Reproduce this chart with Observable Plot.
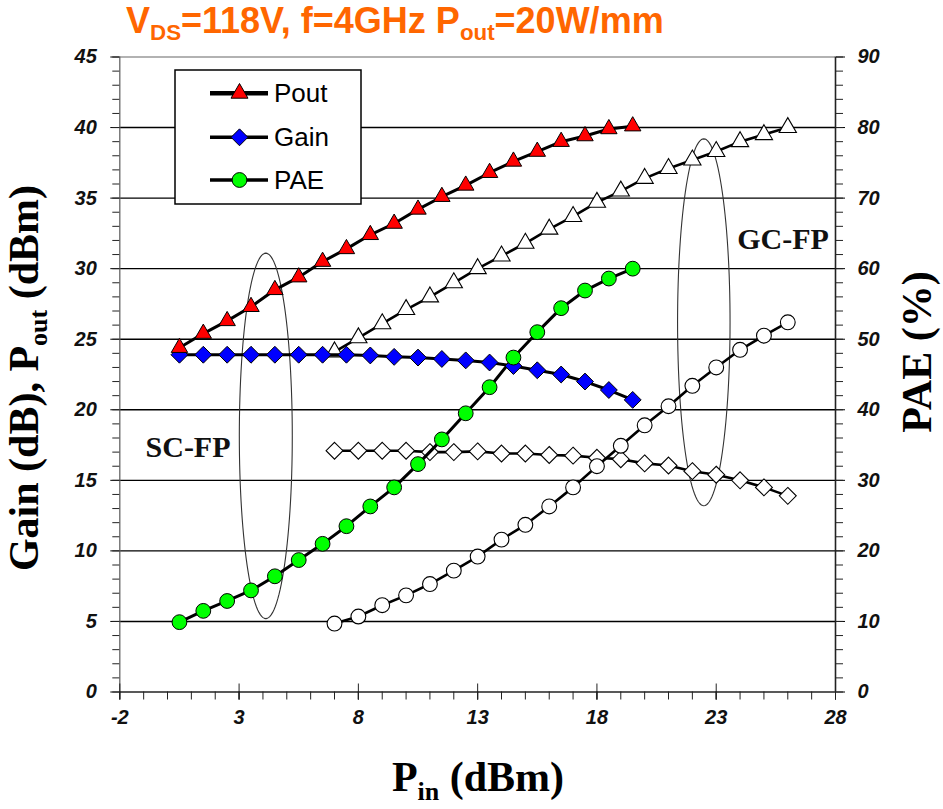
<!DOCTYPE html>
<html><head><meta charset="utf-8">
<script src="https://cdn.jsdelivr.net/npm/d3@7"></script>
<script src="https://cdn.jsdelivr.net/npm/@observablehq/plot@0.6"></script>
<style>
body{margin:0;background:#fff;}
#wrap{position:relative;width:943px;height:809px;overflow:hidden;background:#fff;}
#wrap svg.plot{position:absolute;left:0;top:0;}
.title{position:absolute;left:126px;top:3px;line-height:36px;color:#FF6600;font-weight:bold;font-size:36px;font-family:"Liberation Sans",Arial,sans-serif;white-space:nowrap;}
.title sub{font-size:0.62em;line-height:0;vertical-align:-0.3em;}
.ser{position:absolute;font-family:"Liberation Serif","Times New Roman",serif;font-weight:bold;font-size:42px;line-height:42px;white-space:nowrap;color:#000;}
.ser sub{font-size:0.62em;line-height:0;vertical-align:-0.35em;}
.rot{transform:translate(-50%,-50%) rotate(-90deg);}
.hor{transform:translate(-50%,0);}
#legend{position:absolute;left:0;top:0;}
</style>
</head><body>
<div id="wrap">
  <div class="title">V<sub>DS</sub>=118V, f=4GHz P<sub>out</sub>=20W/mm</div>
</div>
<script>
// ---- Data ----
const pinSC  = [0.5,1.5,2.5,3.5,4.5,5.5,6.5,7.5,8.5,9.5,10.5,11.5,12.5,13.5,14.5,15.5,16.5,17.5,18.5,19.5];
const poutSC = [24.4,25.4,26.3,27.3,28.5,29.4,30.5,31.4,32.4,33.2,34.2,35.1,35.9,36.8,37.6,38.3,39.0,39.4,39.9,40.1];
const gainSC = [23.9,23.9,23.9,23.9,23.9,23.9,23.9,23.9,23.85,23.75,23.7,23.6,23.5,23.35,23.1,22.8,22.5,22.0,21.4,20.7];
const paeSC  = [9.9,11.5,12.9,14.4,16.4,18.7,21.0,23.5,26.3,29.0,32.3,35.8,39.5,43.2,47.4,51.0,54.4,56.9,58.6,60.0];

const pinGC  = [7,8,9,10,11,12,13,14,15,16,17,18,19,20,21,22,23,24,25,26];
const poutGC = [24.1,25.1,26.1,27.1,28.0,29.0,30.0,30.9,31.8,32.8,33.7,34.7,35.5,36.4,37.1,37.7,38.3,39.0,39.5,40.0];
const gainGC = [17.1,17.1,17.1,17.1,17.0,17.0,17.05,16.9,16.9,16.8,16.75,16.6,16.5,16.2,16.05,15.65,15.4,15.0,14.5,13.9];
const paeGC  = [9.7,10.7,12.3,13.7,15.3,17.2,19.2,21.6,23.7,26.3,29.0,32.0,34.9,37.8,40.5,43.4,46.0,48.5,50.5,52.4];

const xMajorTicks = [-2,3,8,13,18,23,28];
const yMajorTicks = [0,5,10,15,20,25,30,35,40,45];
const legendLabels = ["Pout","Gain","PAE"];
const annotText = ["SC-FP","GC-FP"];
const annotX = [0.86, 25.8];
const annotY = [17.3, 32.07];
const ellCx = [4.12, 22.48];
const ellCy = [18.15, 26.2];
const ellRx = [1.11, 1.1];
const ellRy = [12.95, 13.0];

// ---- Derived tables ----
const sc = pinSC.map((p,i)=>({pin:p, pout:poutSC[i], gain:gainSC[i], pae:paeSC[i]/2}));
const gc = pinGC.map((p,i)=>({pin:p, pout:poutGC[i], gain:gainGC[i], pae:paeGC[i]/2}));
const xMinor = d3.range(-2, 28.001, 1);
const yMinor = d3.range(0, 45.001, 1);
const gridY = yMajorTicks.filter(v=>v>0 && v<45);
const annots = annotText.map((t,i)=>({t, x:annotX[i], y:annotY[i]}));
const ellPts = [];
ellCx.forEach((cx,k)=>{
  d3.range(0, 361, 3).forEach(a=>{
    const r = a*Math.PI/180;
    ellPts.push({id:k, x: cx + ellRx[k]*Math.cos(r), y: ellCy[k] + ellRy[k]*Math.sin(r)});
  });
});

const tickFont = {fontSize:20, fontWeight:"bold", fontStyle:"italic", fontFamily:"Liberation Sans, Arial, sans-serif", fill:"#111"};
const fmt = d => String(d);

const chart = Plot.plot({
  width: 943, height: 809,
  marginLeft: 119.3, marginRight: 108, marginTop: 56.5, marginBottom: 117.5,
  x: {domain: [-2, 28]},
  y: {domain: [0, 45]},
  style: {background: "#fff", overflow: "visible"},
  marks: [
    Plot.ruleY(gridY, {stroke: "#000", strokeWidth: 1.4}),
    Plot.ruleY([45], {stroke: "#999", strokeWidth: 1.3}),
    Plot.ruleX([-2], {stroke: "#666", strokeWidth: 1.3}),
    Plot.ruleX([28], {stroke: "#222", strokeWidth: 1.6}),
    Plot.ruleY([0], {stroke: "#222", strokeWidth: 1.6}),
    // axes
    Plot.axisY({anchor: "left", ticks: yMajorTicks, tickSize: 9, tickPadding: 14, tickFormat: fmt, label: null, ...tickFont}),
    Plot.axisY({anchor: "left", ticks: yMinor, tickSize: 7, tickFormat: () => "", label: null, stroke:"#222"}),
    Plot.axisY({anchor: "right", ticks: yMajorTicks, tickSize: 9, tickPadding: 13, tickFormat: d => String(d*2), label: null, ...tickFont}),
    Plot.axisY({anchor: "right", ticks: yMinor, tickSize: 7, tickFormat: () => "", label: null, stroke:"#222"}),
    Plot.axisX({anchor: "bottom", ticks: xMajorTicks, tickSize: 8, tickPadding: 10, tickFormat: fmt, label: null, ...tickFont}),
    Plot.axisX({anchor: "bottom", ticks: xMajorTicks, tickSize: 16, dy: -8, tickFormat: () => "", label: null, stroke:"#222"}),
    Plot.axisX({anchor: "bottom", ticks: xMinor, tickSize: 8, tickFormat: () => "", label: null, stroke:"#222"}),
    // ellipses
    Plot.line(ellPts, {x: "x", y: "y", z: "id", stroke: "#333", strokeWidth: 1.1}),
    // GC-FP (open markers)
    Plot.line(gc, {x: "pin", y: "pout", stroke: "#000", strokeWidth: 2.6}),
    Plot.line(gc, {x: "pin", y: "gain", stroke: "#000", strokeWidth: 2.6}),
    Plot.line(gc, {x: "pin", y: "pae", stroke: "#000", strokeWidth: 2.6}),
    Plot.dot(gc, {x: "pin", y: "pout", symbol: "triangle", r: 6.4, fill: "#fff", stroke: "#000", strokeWidth: 1.1}),
    Plot.dot(gc, {x: "pin", y: "gain", symbol: "diamond2", r: 7.6, fill: "#fff", stroke: "#000", strokeWidth: 1.1}),
    Plot.dot(gc, {x: "pin", y: "pae", symbol: "circle", r: 7.4, fill: "#fff", stroke: "#000", strokeWidth: 1.1}),
    // SC-FP (filled markers)
    Plot.line(sc, {x: "pin", y: "pout", stroke: "#000", strokeWidth: 3}),
    Plot.line(sc, {x: "pin", y: "gain", stroke: "#000", strokeWidth: 3}),
    Plot.line(sc, {x: "pin", y: "pae", stroke: "#000", strokeWidth: 3}),
    Plot.dot(sc, {x: "pin", y: "gain", symbol: "diamond2", r: 7.6, fill: "#0000FF", stroke: "#000", strokeWidth: 1}),
    Plot.dot(sc, {x: "pin", y: "pout", symbol: "triangle", r: 6.1, fill: "#FF0000", stroke: "#000", strokeWidth: 1}),
    Plot.dot(sc, {x: "pin", y: "pae", symbol: "circle", r: 7.4, fill: "#00FF00", stroke: "#000", strokeWidth: 1}),
    // annotations
    Plot.text(annots, {x: "x", y: "y", text: "t", fontFamily: "Liberation Serif, Times New Roman, serif", fontWeight: "bold", fontSize: 30, fill: "#111"})
  ]
});
chart.classList.add("plot");
const wrap = document.getElementById("wrap");
wrap.insertBefore(chart, wrap.firstChild);

// axis titles (HTML, for subscripts)
function addSer(html, cls, css){
  const d = document.createElement("div");
  d.className = "ser " + cls;
  d.innerHTML = html;
  Object.assign(d.style, css);
  wrap.appendChild(d);
}
addSer("Gain (dB), P<sub>out</sub> (dBm)", "rot", {left: "24px", top: "378px"});
addSer("PAE (%)", "rot", {left: "917px", top: "352px"});
addSer("P<sub>in</sub> (dBm)", "hor", {left: "478px", top: "756px"});

// legend
const lg = d3.select(wrap).append("svg").attr("id","legend").attr("width",943).attr("height",809);
lg.append("rect").attr("x",175).attr("y",70).attr("width",186).attr("height",134)
  .attr("fill","#fff").attr("stroke","#000").attr("stroke-width",1.5);
const rowsY = [93.3, 137.3, 180];
const legSym = [
  {sym: d3.symbolTriangle, r: 6.3, fill: "#FF0000", lw: 4.5},
  {sym: d3.symbolDiamond2, r: 7.6, fill: "#0000FF", lw: 3.5},
  {sym: d3.symbolCircle, r: 7.4, fill: "#00FF00", lw: 3.5}
];
legendLabels.forEach((lab, i) => {
  const y = rowsY[i], s = legSym[i];
  lg.append("line").attr("x1",210).attr("x2",268).attr("y1",y).attr("y2",y)
    .attr("stroke","#000").attr("stroke-width",s.lw);
  lg.append("path").attr("d", d3.symbol(s.sym, Math.PI*s.r*s.r)())
    .attr("transform",`translate(239.5,${y})`).attr("fill",s.fill).attr("stroke","#000").attr("stroke-width",1);
  lg.append("text").attr("x",274).attr("y",y+8.5).text(lab)
    .attr("font-family","Liberation Sans, Arial, sans-serif").attr("font-size",26).attr("fill","#000");
});
</script>
</body></html>
